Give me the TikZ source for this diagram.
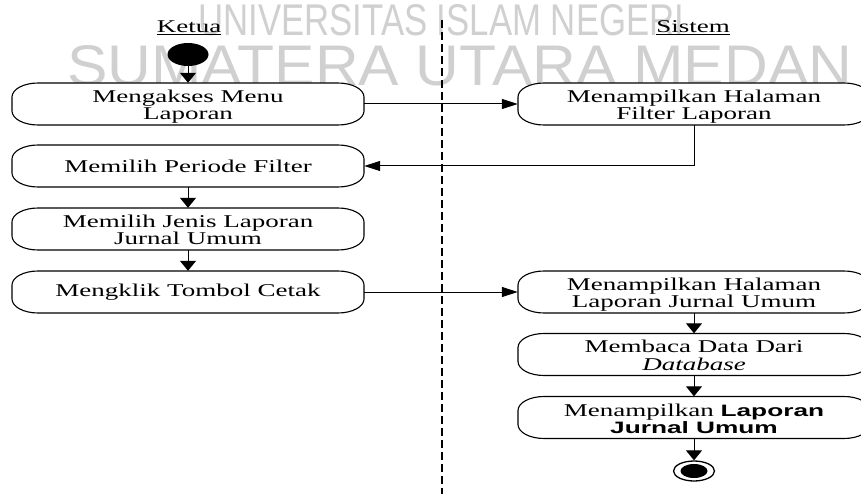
\documentclass[tikz,border=0pt]{standalone}
\usepackage{graphicx}
\usepackage{fontspec}
\setmainfont{Liberation Serif}[ItalicFont={Liberation Serif Italic},BoldFont={Liberation Serif Bold}]
\newfontfamily\wmfont{Liberation Sans}
\newfontfamily\sansf{Liberation Sans}
\usetikzlibrary{arrows.meta,calc,shapes.geometric}
\definecolor{wm}{RGB}{208,208,208}
\newcommand\sx[1]{\scalebox{1.5}[1]{#1}}
\newcommand\twol[2]{\sx{\begin{tabular}{@{}c@{}}#1\\#2\end{tabular}}}
\newcommand\sanslab[1]{{\fontsize{16.5}{16.5}\selectfont\sansf\bfseries\scalebox{1.06}[1]{#1}}}
\newcommand\actbox[5][0pt]{%
  \path[boxline] (#3,#4) ++(-150,21) -- ++(300,0)
    arc[start angle=90,end angle=0,x radius=26,y radius=14] -- ++(0,-14)
    arc[start angle=0,end angle=-90,x radius=26,y radius=14] -- ++(-300,0)
    arc[start angle=270,end angle=180,x radius=26,y radius=14] -- ++(0,14)
    arc[start angle=180,end angle=90,x radius=26,y radius=14] -- cycle;
  \node[boxshape] (#2) at (#3,#4) {};
  \node[boxtext, yshift=#1] (#2-t) at (#2) {#5};}
\tikzset{
  boxline/.style={draw, line width=1.1pt, fill=white},
  boxshape/.style={minimum width=352pt, minimum height=42pt, inner sep=0pt},
  boxtext/.style={inner sep=0pt, font=\fontsize{18}{17}\selectfont},
  vflow/.style={-{Triangle[length=10pt,width=16pt]}, line width=1pt},
  hflow/.style={-{Triangle[length=16pt,width=10pt]}, line width=1pt},
  head/.style={inner sep=0pt, anchor=base, font=\fontsize{18}{17}\selectfont},
  wmtext/.style={inner sep=0pt, anchor=north west, text=wm}
}
\begin{document}
\begin{tikzpicture}[x=1pt,y=1pt]
\useasboundingbox (0,0) rectangle (861,-494);
\clip (0,0) rectangle (861,-494);
\fill[white] (0,0) rectangle (861,-494);
% watermark
\node[wmtext] (wm1) at (198,-4) {\resizebox{486pt}{31pt}{\wmfont UNIVERSITAS ISLAM NEGERI}};
\node[wmtext] (wm2) at (67,-45) {\resizebox{785pt}{40pt}{\wmfont SUMATERA UTARA MEDAN}};
% swimlane divider
\coordinate (dtop) at (442,-20);
\coordinate (dbot) at (442,-494);
\draw[line width=1.3pt, dash pattern=on 8pt off 4pt] (dtop) -- (dbot);
% headers
\node[head] (ketua) at (189,-33) {\sx{\underline{Ketua}}};
\node[head] (sistem) at (693,-33) {\sx{\underline{Sistem}}};
% start / end
\node[ellipse, fill=black, minimum width=41pt, minimum height=23pt, inner sep=0pt] (start) at (188,-54.5) {};
\node[ellipse, draw, line width=1.3pt, minimum width=41pt, minimum height=20pt, inner sep=0pt] (end) at (694,-471) {};
\node[ellipse, fill=black, minimum width=27pt, minimum height=14pt, inner sep=0pt] (endin) at (end) {};
% activities
\actbox[-3.5pt]{b1}{188}{-104}{\twol{Mengakses Menu}{Laporan}}
\actbox[-3.5pt]{b2}{694}{-104}{\twol{Menampilkan Halaman}{Filter Laporan}}
\actbox{b3}{188}{-166}{\sx{Memilih Periode Filter}}
\actbox[-3.5pt]{b4}{188}{-229}{\twol{Memilih Jenis Laporan}{Jurnal Umum}}
\actbox{b5}{188}{-292}{\sx{Mengklik Tombol Cetak}}
\actbox[-3.5pt]{b6}{694}{-292}{\twol{Menampilkan Halaman}{Laporan Jurnal Umum}}
\actbox[-3.5pt]{b7}{694}{-354.5}{\twol{Membaca Data Dari}{\textit{Database}}}
\actbox[-3.5pt]{b8}{694}{-417.5}{\twol{Menampilkan \sanslab{Laporan}}{\sanslab{Jurnal Umum}}}
% flows
\draw[vflow] (start) -- (b1);
\draw[hflow] (b1) -- (b2);
\draw[hflow] (b2.south) -- (b2.south |- b3) -- (b3.east);
\draw[vflow] (b3) -- (b4);
\draw[vflow] (b4) -- (b5);
\draw[hflow] (b5) -- (b6);
\draw[vflow] (b6) -- (b7);
\draw[vflow] (b7) -- (b8);
\draw[vflow] (b8) -- (end);
\end{tikzpicture}
\end{document}
